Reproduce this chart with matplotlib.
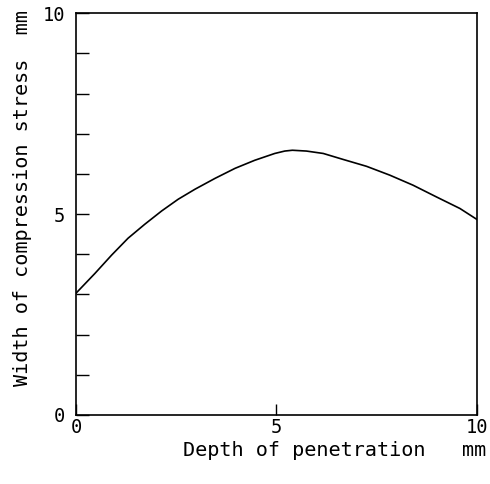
import matplotlib
matplotlib.use("Agg")
import matplotlib.pyplot as plt

# values
depth = [0.0, 0.47, 0.89, 1.30, 1.72, 2.14, 2.55, 2.97, 3.47, 3.97, 4.46, 4.96, 5.21,
         5.40, 5.75, 6.17, 6.67, 7.25, 7.83, 8.41, 8.99, 9.58, 10.0]
width = [3.03, 3.52, 3.98, 4.40, 4.75, 5.08, 5.37, 5.62, 5.89, 6.14, 6.34, 6.51, 6.57,
         6.59, 6.57, 6.51, 6.36, 6.19, 5.97, 5.72, 5.43, 5.14, 4.87]

xticks = [0, 5, 10]
yticks = list(range(0, 11))
ylabels = ["0", "", "", "", "", "5", "", "", "", "", "10"]

plt.rcParams['font.family'] = ['DejaVu Sans Mono']

fig = plt.figure(figsize=(4.9, 4.84), dpi=100)
ax = fig.add_axes([0.155, 0.1426, 0.818, 0.830])

ax.plot(depth, width, color="black", lw=1.2)

ax.set_xlim(0, 10)
ax.set_ylim(0, 10)
ax.set_xticks(xticks)
ax.set_yticks(yticks)
ax.set_yticklabels(ylabels)
ax.tick_params(axis="both", direction="in", width=1.0, labelsize=13.5)
ax.tick_params(axis="y", length=9, pad=8)
ax.tick_params(axis="x", length=8, pad=2)

for s in ax.spines.values():
    s.set_linewidth(1.2)

# axis titles placed like the plotter lettering
fig.text(486 / 490, 1 - 450 / 484, "Depth of penetration   mm", fontsize=14.5,
         ha="right", va="center")
fig.text(23 / 490, 1 - 10 / 484, "Width of compression stress  mm", fontsize=14.5,
         rotation=90, ha="center", va="top")

fig.savefig("out.png", dpi=100)
